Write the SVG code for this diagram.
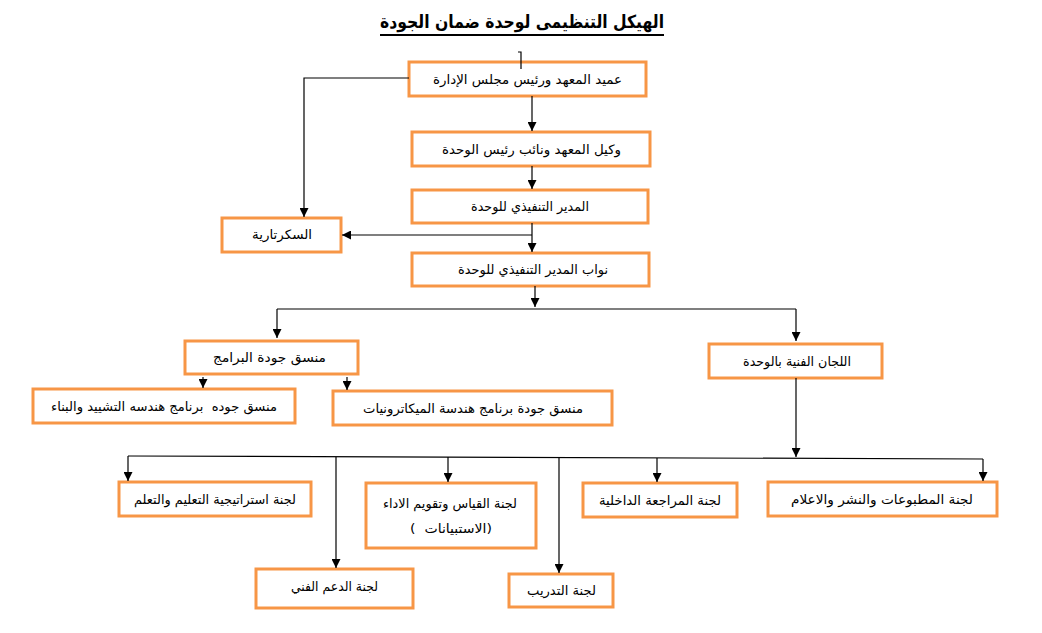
<svg xmlns="http://www.w3.org/2000/svg" width="1042" height="633" viewBox="0 0 1042 633">
<style>
  .box { fill: #ffffff; stroke: #F79646; stroke-width: 3; }
  .t { font-family: "DejaVu Sans", "Liberation Sans", sans-serif; font-size: 13px; fill: #000000; text-anchor: middle; direction: rtl; }
  .title { font-family: "DejaVu Sans", "Liberation Sans", sans-serif; font-size: 18px; font-weight: bold; fill: #000000; text-anchor: middle; direction: rtl; }
  .c { fill: none; stroke: #000000; stroke-width: 1.2; }
  .ca { fill: none; stroke: #000000; stroke-width: 1.2; marker-end: url(#arr); }
</style>
<defs>
  <marker id="arr" markerUnits="userSpaceOnUse" markerWidth="9" markerHeight="9" refX="9" refY="4.5" orient="auto" viewBox="0 0 9 9">
    <path d="M0,0 L9,4.5 L0,9 z" fill="#000000"/>
  </marker>
</defs>
<rect x="0" y="0" width="1042" height="633" fill="#ffffff"/>

<g id="title">
  <text class="title" x="522" y="28" textLength="284" lengthAdjust="spacingAndGlyphs">الهيكل التنظيمى لوحدة ضمان الجودة</text>
  <line x1="380" y1="35" x2="664" y2="35" stroke="#000000" stroke-width="2"/>
</g>

<g id="n-dean">
  <rect class="box" x="409" y="62" width="237" height="34"/>
  <text class="t" x="527.5" y="84" textLength="189" lengthAdjust="spacingAndGlyphs">عميد المعهد ورئيس مجلس الإدارة</text>
</g>
<g id="n-vice">
  <rect class="box" x="412" y="132" width="238" height="34"/>
  <text class="t" x="531.5" y="154" textLength="179" lengthAdjust="spacingAndGlyphs">وكيل المعهد ونائب رئيس الوحدة</text>
</g>
<g id="n-exec">
  <rect class="box" x="412" y="190" width="236" height="33"/>
  <text class="t" x="530" y="211" textLength="118" lengthAdjust="spacingAndGlyphs">المدير التنفيذي للوحدة</text>
</g>
<g id="n-secretary">
  <rect class="box" x="222" y="218" width="119" height="34"/>
  <text class="t" x="282" y="239" textLength="60" lengthAdjust="spacingAndGlyphs">السكرتارية</text>
</g>
<g id="n-deputies">
  <rect class="box" x="412" y="253" width="237" height="33"/>
  <text class="t" x="533" y="274" textLength="150" lengthAdjust="spacingAndGlyphs">نواب المدير التنفيذي للوحدة</text>
</g>
<g id="n-progq">
  <rect class="box" x="185" y="341" width="173" height="33"/>
  <text class="t" x="269.5" y="362" textLength="113" lengthAdjust="spacingAndGlyphs">منسق جودة البرامج</text>
</g>
<g id="n-civil">
  <rect class="box" x="33" y="389" width="262" height="34"/>
  <text class="t" x="164" y="411" textLength="226" lengthAdjust="spacingAndGlyphs">منسق جوده&#160; برنامج هندسه التشييد والبناء</text>
</g>
<g id="n-mech">
  <rect class="box" x="333" y="391" width="279" height="34"/>
  <text class="t" x="473" y="413" textLength="220" lengthAdjust="spacingAndGlyphs">منسق جودة برنامج هندسة الميكاترونيات</text>
</g>
<g id="n-committees">
  <rect class="box" x="709" y="344" width="173" height="34"/>
  <text class="t" x="797" y="366" textLength="108" lengthAdjust="spacingAndGlyphs">اللجان الفنية بالوحدة</text>
</g>
<g id="n-strategy">
  <rect class="box" x="119" y="482" width="192" height="34"/>
  <text class="t" x="215" y="504" textLength="162" lengthAdjust="spacingAndGlyphs">لجنة استراتيجية التعليم والتعلم</text>
</g>
<g id="n-measure">
  <rect class="box" x="366" y="483" width="170" height="65"/>
  <text class="t" x="450" y="508" textLength="134" lengthAdjust="spacingAndGlyphs">لجنة القياس وتقويم الاداء</text>
  <text class="t" x="451" y="533" textLength="82" lengthAdjust="spacingAndGlyphs">(الاستبيانات&#160; )</text>
</g>
<g id="n-support">
  <rect class="box" x="256" y="569" width="157" height="39"/>
  <text class="t" x="334.5" y="591" textLength="87" lengthAdjust="spacingAndGlyphs">لجنة الدعم الفني</text>
</g>
<g id="n-training">
  <rect class="box" x="509" y="574" width="104" height="33"/>
  <text class="t" x="561.5" y="595" textLength="69" lengthAdjust="spacingAndGlyphs">لجنة التدريب</text>
</g>
<g id="n-audit">
  <rect class="box" x="583" y="483" width="154" height="34"/>
  <text class="t" x="660" y="505" textLength="122" lengthAdjust="spacingAndGlyphs">لجنة المراجعة الداخلية</text>
</g>
<g id="n-publications">
  <rect class="box" x="768" y="482" width="229" height="34"/>
  <text class="t" x="882" y="504" textLength="182" lengthAdjust="spacingAndGlyphs">لجنة المطبوعات والنشر والاعلام</text>
</g>

<g id="connectors">
  <polyline class="c" points="518,52 521,52 521,69"/>
  <polyline class="ca" points="409,78 304,78 304,217"/>
  <line class="ca" x1="532" y1="96" x2="532" y2="131"/>
  <line class="ca" x1="532" y1="166" x2="532" y2="189"/>
  <line class="ca" x1="532" y1="223" x2="532" y2="252"/>
  <line class="ca" x1="532" y1="235" x2="342" y2="235"/>
  <line class="ca" x1="535" y1="286" x2="535" y2="307"/>
  <line class="c" x1="277" y1="309" x2="796" y2="309"/>
  <line class="ca" x1="277" y1="309" x2="277" y2="338"/>
  <line class="ca" x1="796" y1="309" x2="796" y2="341"/>
  <line class="ca" x1="203" y1="377" x2="203" y2="388"/>
  <line class="ca" x1="347" y1="377" x2="347" y2="390"/>
  <line class="ca" x1="796" y1="378" x2="796" y2="457"/>
  <line class="c" x1="128" y1="456" x2="983" y2="459"/>
  <line class="ca" x1="128" y1="456" x2="128" y2="481"/>
  <line class="ca" x1="336" y1="457" x2="336" y2="568"/>
  <line class="ca" x1="448" y1="457" x2="448" y2="482"/>
  <line class="ca" x1="559" y1="458" x2="559" y2="573"/>
  <line class="ca" x1="657" y1="458" x2="657" y2="482"/>
  <line class="ca" x1="983" y1="459" x2="983" y2="481"/>
</g>
</svg>
